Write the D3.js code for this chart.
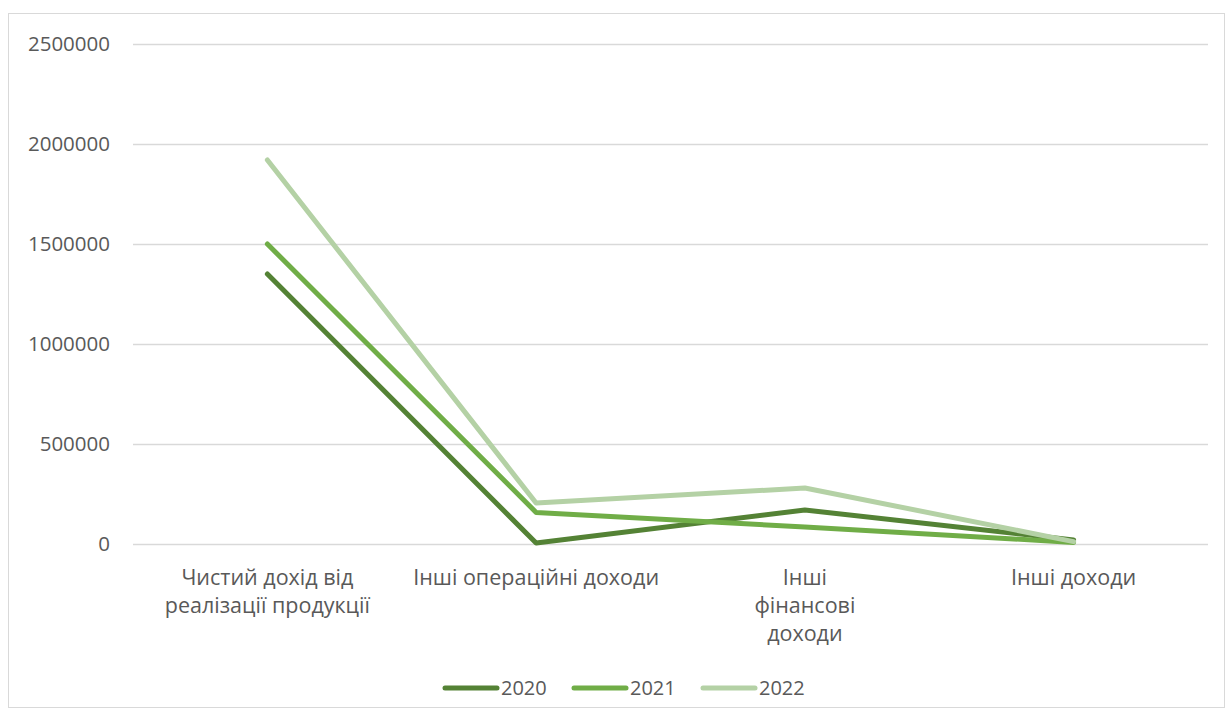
<!DOCTYPE html>
<html>
<head>
<meta charset="utf-8">
<script src="https://cdn.jsdelivr.net/npm/d3@7"></script>
<style>
  body { margin: 0; background: #fff; }
  text { font-family: "Open Sans", sans-serif; fill: #595959; }
</style>
</head>
<body>
<div class="chart"></div>
<script>
var svgWidth = 1225;
var svgHeight = 720;

// data
var categories = [
  ["Чистий дохід від", "реалізації продукції"],
  ["Інші операційні доходи"],
  ["Інші", "фінансові", "доходи"],
  ["Інші доходи"]
];
var years = ["2020", "2021", "2022"];
var values2020 = [1350000, 5000, 170000, 20000];
var values2021 = [1500000, 158000, 85000, 8000];
var values2022 = [1920000, 205000, 280000, 12000];
var yTicks = [0, 500000, 1000000, 1500000, 2000000, 2500000];
var colors = ["#548235", "#70ad47", "#b4d1a5"];

var margin = { top: 44, right: 17, bottom: 176, left: 133 };
var width = svgWidth - margin.left - margin.right;
var height = svgHeight - margin.top - margin.bottom;

var svg = d3.select(".chart")
  .append("svg")
  .attr("width", svgWidth)
  .attr("height", svgHeight);

// chart frame
svg.append("rect")
  .attr("x", 8.5)
  .attr("y", 13.5)
  .attr("width", 1216)
  .attr("height", 694)
  .attr("fill", "none")
  .attr("stroke", "#d9d9d9");

var chartGroup = svg.append("g")
  .attr("transform", `translate(${margin.left}, ${margin.top})`);

var xScale = d3.scaleBand()
  .domain(d3.range(categories.length))
  .range([0, width]);

var yScale = d3.scaleLinear()
  .domain([0, 2500000])
  .range([height, 0]);

// gridlines + y labels
var leftAxis = d3.axisLeft(yScale)
  .tickValues(yTicks)
  .tickSize(-width)
  .tickPadding(23)
  .tickFormat(d3.format("d"));

var yAxisG = chartGroup.append("g").call(leftAxis);
yAxisG.select(".domain").remove();
yAxisG.selectAll("line").attr("stroke", "#d9d9d9").attr("stroke-width", 1.3);
yAxisG.selectAll("text")
  .style("font-size", "20.5px")
  .attr("fill", "#595959");

// x labels (multi-line)
var xLabels = chartGroup.selectAll(".xlab")
  .data(categories)
  .enter()
  .append("text")
  .attr("class", "xlab")
  .attr("text-anchor", "middle")
  .attr("transform", (d, i) => `translate(${xScale(i) + xScale.bandwidth() / 2}, ${height + 41})`)
  .style("font-size", "21.5px");

xLabels.selectAll("tspan")
  .data(d => d)
  .enter()
  .append("tspan")
  .attr("x", 0)
  .attr("dy", (d, i) => i === 0 ? 0 : 28)
  .text(d => d);

// lines
var series = [values2020, values2021, values2022];
var line = d3.line()
  .x((d, i) => xScale(i) + xScale.bandwidth() / 2)
  .y(d => yScale(d));

chartGroup.selectAll(".series")
  .data(series)
  .enter()
  .append("path")
  .attr("class", "series")
  .attr("d", d => line(d))
  .attr("fill", "none")
  .attr("stroke", (d, i) => colors[i])
  .attr("stroke-width", 5)
  .attr("stroke-linecap", "round")
  .attr("stroke-linejoin", "round");

// legend
var legend = svg.append("g")
  .attr("transform", "translate(443, 688)");

var items = legend.selectAll(".item")
  .data(years)
  .enter()
  .append("g")
  .attr("transform", (d, i) => `translate(${i * 129}, 0)`);

items.append("line")
  .attr("x1", 2).attr("x2", 54)
  .attr("y1", 0).attr("y2", 0)
  .attr("stroke", (d, i) => colors[i])
  .attr("stroke-width", 5)
  .attr("stroke-linecap", "round");

items.append("text")
  .attr("x", 58)
  .attr("dy", "0.35em")
  .style("font-size", "20px")
  .text(d => d);
</script>
</body>
</html>
